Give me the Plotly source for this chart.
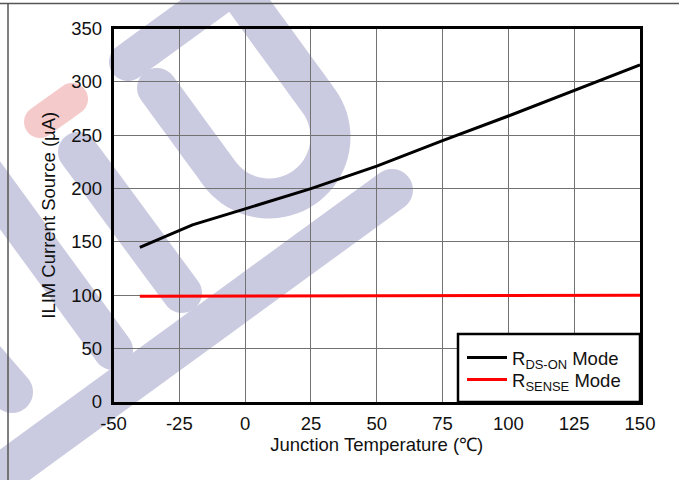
import numpy as np
import plotly.graph_objects as go

# ILIM current source vs junction temperature
temp_rds = [-40, -20, 0, 25, 50, 75, 100, 125, 150]
ilim_rds = [145, 166, 181, 200, 221, 245, 268, 292, 316]
temp_sense = [-40, 150]
ilim_sense = [99, 100]

x_ticks = [-50, -25, 0, 25, 50, 75, 100, 125, 150]
x_labels = ["-50", "-25", "0", "25", "50", "75", "100", "125", "150"]
y_ticks = [0, 50, 100, 150, 200, 250, 300, 350]

W, H = 679, 480
FONT = "Arial, 'Liberation Sans', sans-serif"

# plot area in pixels
PL, PR, PT, PB = 113.5, 640.0, 28.5, 402.0


def to_paper(pts):
    pts = np.asarray(pts, dtype=float)
    return np.column_stack([pts[:, 0] / W, 1.0 - pts[:, 1] / H])


def stroke_path(center, width, round_start=True, round_end=True, n_cap=18):
    """Outline of a thick stroke along a polyline (pixel coords) as an SVG path."""
    c = np.asarray(center, dtype=float)
    t = np.gradient(c, axis=0)
    t /= np.linalg.norm(t, axis=1)[:, None]
    nrm = np.column_stack([-t[:, 1], t[:, 0]])
    r = width / 2.0
    left = c + nrm * r
    right = c - nrm * r
    pts = list(left)
    if round_end:
        a0 = np.arctan2(nrm[-1, 1], nrm[-1, 0])
        for k in range(1, n_cap):
            a = a0 - np.pi * k / n_cap
            pts.append(c[-1] + r * np.array([np.cos(a), np.sin(a)]))
    pts += list(right[::-1])
    if round_start:
        a0 = np.arctan2(-nrm[0, 1], -nrm[0, 0])
        for k in range(1, n_cap):
            a = a0 - np.pi * k / n_cap
            pts.append(c[0] + r * np.array([np.cos(a), np.sin(a)]))
    p = to_paper(pts)
    return "M" + " L".join(f"{x:.5f},{y:.5f}" for x, y in p) + " Z"


def seg(p0, p1, n=2):
    p0, p1 = np.asarray(p0, float), np.asarray(p1, float)
    return [p0 + (p1 - p0) * s for s in np.linspace(0, 1, n)]


# background logo strokes
d = np.array([0.59, 0.81]); d /= np.linalg.norm(d)
nv = np.array([d[1], -d[0]])
LAV = "#cacbe0"
PINK = "#f5caca"

logo = []
# U shape
A = np.array([157.0, 88.0])
C = np.array([269.0, 137.0])
R = 61.5
B = C - R * nv
D = C + R * nv
E = D - d * 140
u_center = seg(A, B, 8)[:-1]
for th in np.linspace(0, np.pi, 40):
    u_center.append(C + R * (-nv * np.cos(th) + d * np.sin(th)))
u_center += seg(D, E, 8)[1:]
logo.append((stroke_path(u_center, 40, True, False), LAV))
# short upper stroke
P = np.array([128.0, 62.0])
logo.append((stroke_path(seg(P, P + nv * 130, 6), 38, True, False), LAV))
# middle stroke
logo.append((stroke_path(seg([78, 152], [182, 293], 6), 40), LAV))
# left stroke
logo.append((stroke_path(seg([-17, 172], [113, 350], 6), 40, False, True), LAV))
# lower-left piece
logo.append((stroke_path(seg([-50, 320], [12, 392], 6), 42, False, True), LAV))
# long diagonal stroke
Q = np.array([392.0, 190.0])
logo.append((stroke_path(seg(Q, Q - nv * 540, 6), 42, True, False), LAV))
# small pink mark
logo.append((stroke_path(seg([40, 122], [72, 99], 4), 32), PINK))

shapes = [
    dict(type="path", xref="paper", yref="paper", path=pth, fillcolor=col,
         line=dict(width=0), layer="below")
    for pth, col in logo
]
# page frame lines
shapes += [
    dict(type="line", xref="paper", yref="paper", x0=0, x1=1, y0=1 - 3.5 / H, y1=1 - 3.5 / H,
         line=dict(color="#555555", width=1.5), layer="below"),
    dict(type="line", xref="paper", yref="paper", x0=8 / W, x1=8 / W, y0=0, y1=1 - 3 / H,
         line=dict(color="#555555", width=1.5), layer="below"),
]
# legend box
shapes.append(dict(type="rect", xref="paper", yref="paper",
                   x0=458 / W, x1=PR / W, y0=1 - PB / H, y1=1 - 334 / H,
                   fillcolor="white", line=dict(color="black", width=2.5), layer="above"))

fig = go.Figure()
fig.add_trace(go.Scatter(x=temp_rds, y=ilim_rds, mode="lines",
                         name="R<sub>DS-ON</sub> Mode", legend="legend",
                         line=dict(color="black", width=3)))
fig.add_trace(go.Scatter(x=temp_sense, y=ilim_sense, mode="lines",
                         name="R<sub>SENSE</sub> Mode", legend="legend2",
                         line=dict(color="#ff0000", width=3)))

axis_common = dict(showline=True, linecolor="black", linewidth=2.5, mirror=True,
                   showgrid=True, gridcolor="#727272", gridwidth=1,
                   zeroline=False, ticks="", tickfont=dict(size=18.5, color="#111111"),
                   automargin=False, fixedrange=True)

legend_common = dict(x=462 / W, xanchor="left", yanchor="middle",
                     bgcolor="rgba(0,0,0,0)", borderwidth=0,
                     font=dict(size=18.5, color="#111111"), itemwidth=40)

fig.update_layout(
    width=W, height=H,
    margin=dict(l=0, r=0, t=0, b=0, autoexpand=False),
    paper_bgcolor="white", plot_bgcolor="rgba(0,0,0,0)",
    font=dict(family=FONT, color="#111111"),
    showlegend=True,
    legend=dict(y=1 - 358 / H, **legend_common),
    legend2=dict(y=1 - 380 / H, **legend_common),
    xaxis=dict(domain=[PL / W, PR / W], range=[-50, 150], tickvals=x_ticks,
               ticktext=x_labels, ticklabelstandoff=3,
               title=dict(text="Junction Temperature (℃)", font=dict(size=18.5), standoff=5),
               **axis_common),
    yaxis=dict(domain=[1 - PB / H, 1 - PT / H], range=[0, 350], tickvals=y_ticks,
               ticklabelstandoff=5,
               title=dict(text="ILIM Current Source (µA)", font=dict(size=18.5), standoff=11),
               **axis_common),
    shapes=shapes,
)

fig.write_html("out.html")
